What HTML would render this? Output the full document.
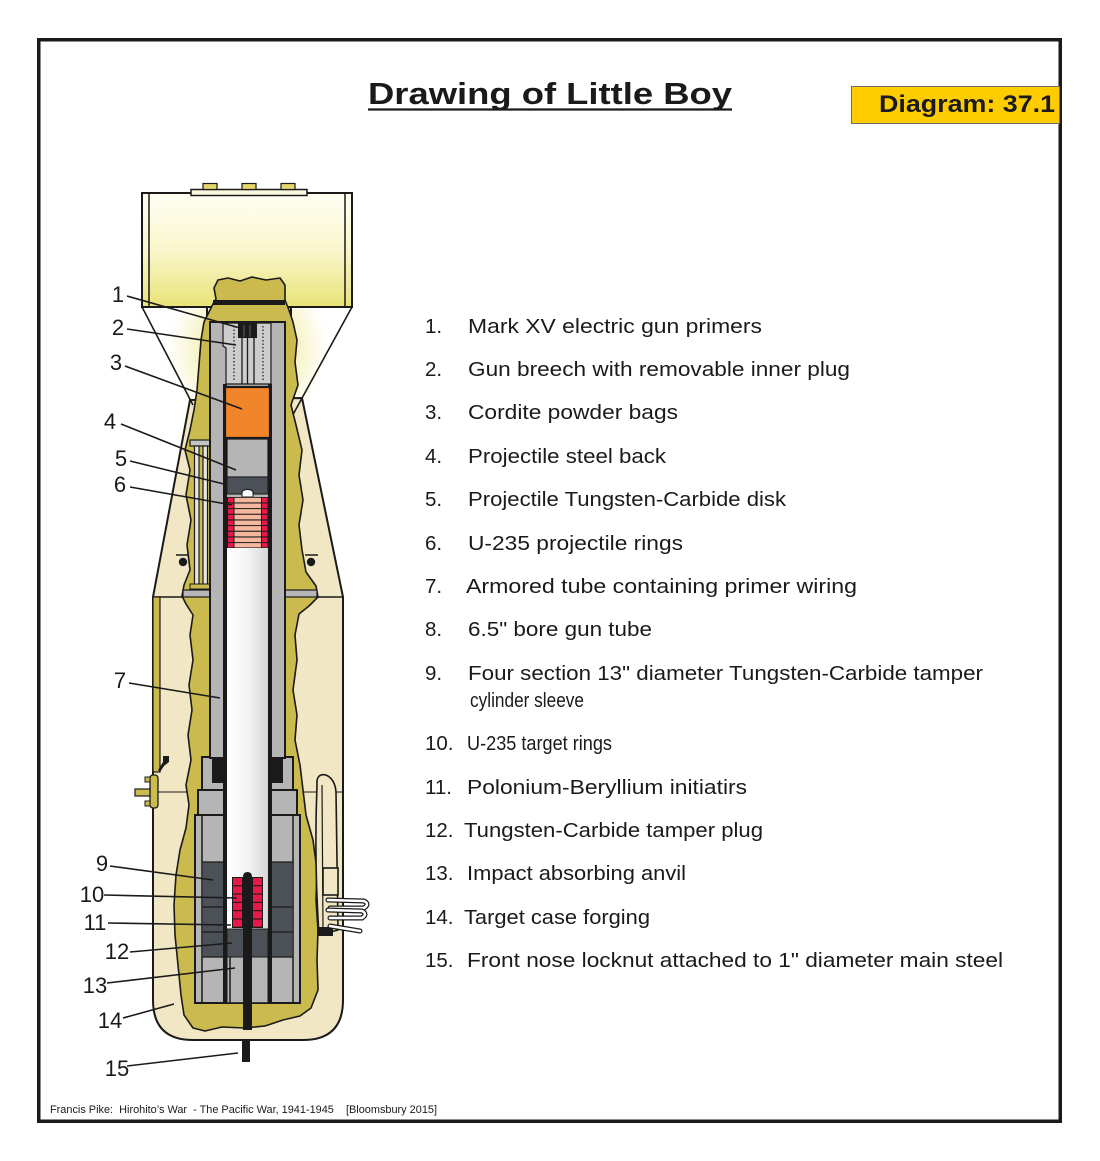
<!DOCTYPE html>
<html>
<head>
<meta charset="utf-8">
<style>
html,body{margin:0;padding:0;background:#fff;}
svg{display:block;}
.lst{font-family:"Liberation Sans",sans-serif;font-size:20.5px;fill:#1a1a1a;}
.num{font-family:"Liberation Sans",sans-serif;font-size:22px;fill:#1a1a1a;}
</style>
</head>
<body>
<svg width="1100" height="1161" viewBox="0 0 1100 1161" xmlns="http://www.w3.org/2000/svg">
<defs>
  <linearGradient id="boxg" x1="0" y1="0" x2="0" y2="1">
    <stop offset="0" stop-color="#fffef3"/>
    <stop offset="0.5" stop-color="#f9f6cc"/>
    <stop offset="1" stop-color="#e9e377"/>
  </linearGradient>
  <radialGradient id="glow" cx="248" cy="350" r="80" gradientUnits="userSpaceOnUse">
    <stop offset="0" stop-color="#eee57a"/>
    <stop offset="0.6" stop-color="#f7f3c4"/>
    <stop offset="1" stop-color="#ffffff"/>
  </radialGradient>
  <linearGradient id="bore" x1="0" y1="0" x2="1" y2="0">
    <stop offset="0" stop-color="#ffffff"/>
    <stop offset="0.5" stop-color="#f4f4f4"/>
    <stop offset="1" stop-color="#d6d6d6"/>
  </linearGradient>
</defs>

<rect x="0" y="0" width="1100" height="1161" fill="#fff"/>
<!-- frame -->
<rect x="38.75" y="39.75" width="1021.5" height="1081.5" fill="none" stroke="#1a1a1a" stroke-width="3.5"/>

<!-- title -->
<text x="368" y="104" font-family="'Liberation Sans',sans-serif" font-weight="bold" font-size="31" fill="#1a1a1a" textLength="364" lengthAdjust="spacingAndGlyphs">Drawing of Little Boy</text>
<line x1="368" y1="109.5" x2="732" y2="109.5" stroke="#1a1a1a" stroke-width="2.2"/>

<!-- badge -->
<rect x="851.5" y="86.5" width="208" height="37" fill="#ffcc00" stroke="#6b6b6b" stroke-width="1"/>
<text x="879" y="112" font-family="'Liberation Sans',sans-serif" font-weight="bold" font-size="24" fill="#1a1a1a" textLength="176" lengthAdjust="spacingAndGlyphs">Diagram: 37.1</text>

<!-- ============ BOMB DRAWING ============ -->
<polygon points="142,307 352,307 302,410 191,410" fill="url(#glow)"/>

<!-- body -->
<path d="M190,400 L302,398 L343,597 L343,1000 Q343,1040 303,1040 L193,1040 Q153,1040 153,1000 L153,597 Z" fill="#f2e7c4" stroke="#1a1a1a" stroke-width="2"/>
<line x1="153" y1="597" x2="343" y2="597" stroke="#1a1a1a" stroke-width="1.5"/>
<line x1="153" y1="792" x2="200" y2="792" stroke="#1a1a1a" stroke-width="1"/>
<line x1="296" y1="792" x2="343" y2="792" stroke="#1a1a1a" stroke-width="1"/>

<!-- neck lines -->
<line x1="207" y1="307" x2="207" y2="420" stroke="#1a1a1a" stroke-width="2"/>
<line x1="291" y1="307" x2="291" y2="420" stroke="#1a1a1a" stroke-width="2"/>

<!-- tail diagonals -->
<line x1="142" y1="307" x2="193" y2="405" stroke="#1a1a1a" stroke-width="1.6"/>
<line x1="352" y1="307" x2="290" y2="420" stroke="#1a1a1a" stroke-width="1.6"/>

<!-- tail box -->
<rect x="142" y="193" width="210" height="114" fill="url(#boxg)" stroke="#1a1a1a" stroke-width="2"/>
<line x1="149" y1="193" x2="149" y2="307" stroke="#1a1a1a" stroke-width="1.5"/>
<line x1="345" y1="193" x2="345" y2="307" stroke="#1a1a1a" stroke-width="1.5"/>
<rect x="191" y="189.5" width="116" height="6" fill="#fbf8de" stroke="#1a1a1a" stroke-width="1.5"/>
<rect x="203" y="183.5" width="14" height="6" fill="#e6d66a" stroke="#1a1a1a" stroke-width="1.2"/>
<rect x="242" y="183.5" width="14" height="6" fill="#e6d66a" stroke="#1a1a1a" stroke-width="1.2"/>
<rect x="281" y="183.5" width="14" height="6" fill="#e6d66a" stroke="#1a1a1a" stroke-width="1.2"/>

<!-- olive blob -->
<path d="M216,299 L214,288 L218,280 L228,278 L240,281 L252,277 L266,280 L280,278 L285,285 L285,300
L289,310 L293,322 L297,340 L295,362 L298,385 L291,405 L296,425 L302,450 L299,475 L303,500 L299,525 L302,550 L306,572 L316,586 L318,597 L309,606 L299,614 L295,635 L297,660 L293,690 L297,715 L295,740 L300,765 L303,790 L306,815 L313,840 L317,870 L316,900 L318,930 L317,960 L318,990 L311,1008 L300,1016 L283,1020 L265,1026 L245,1028 L222,1027 L205,1031 L193,1028 L184,1015 L181,995 L178,965 L175,935 L174,905 L176,875 L180,850 L186,828 L189,805 L186,785 L191,760 L188,735 L192,710 L189,685 L193,660 L190,635 L193,615 L186,604 L182,596 L184,585 L190,570 L187,545 L191,520 L186,495 L190,470 L185,450 L190,430 L194,410 L197,390 L199,365 L201,340 L204,322 L210,310 L214,302 Z" fill="#cbba4e" stroke="#1a1a1a" stroke-width="1.6" stroke-linejoin="round"/>
<rect x="213" y="300" width="72" height="5" fill="#1a1a1a"/>

<!-- bulkhead plates -->
<rect x="183" y="590" width="27" height="7" fill="#b7b7b7" stroke="#1a1a1a" stroke-width="1.2"/>
<rect x="285" y="590" width="32" height="7" fill="#b7b7b7" stroke="#1a1a1a" stroke-width="1.2"/>

<!-- left conduit rails -->
<rect x="190" y="440" width="20" height="6" fill="#c4c4c4" stroke="#1a1a1a" stroke-width="1.2"/>
<rect x="194.5" y="446" width="4.5" height="140" fill="#e6e6e6" stroke="#1a1a1a" stroke-width="1.2"/>
<rect x="203" y="446" width="4.5" height="140" fill="#e6e6e6" stroke="#1a1a1a" stroke-width="1.2"/>
<rect x="190" y="584" width="20" height="5" fill="#cbba4e" stroke="#1a1a1a" stroke-width="1"/>

<!-- bolt dots -->
<line x1="176" y1="555" x2="189" y2="555" stroke="#1a1a1a" stroke-width="1.5"/>
<circle cx="183" cy="562" r="4.2" fill="#1a1a1a"/>
<line x1="305" y1="555" x2="318" y2="555" stroke="#1a1a1a" stroke-width="1.5"/>
<circle cx="311" cy="562" r="4.2" fill="#1a1a1a"/>

<!-- lower housing sections -->
<rect x="195" y="815" width="105" height="188" fill="#b5b5b5" stroke="#1a1a1a" stroke-width="2"/>
<rect x="198" y="790" width="99" height="25" fill="#b5b5b5" stroke="#1a1a1a" stroke-width="2"/>
<rect x="202" y="757" width="91" height="33" fill="#b5b5b5" stroke="#1a1a1a" stroke-width="2"/>

<!-- upper gun tube -->
<rect x="210" y="322" width="75" height="436" fill="#b5b5b5" stroke="#1a1a1a" stroke-width="2"/>

<!-- breech cavity -->
<path d="M223,323 L271,323 L271,384 L226,384 L226,348 L223,346 Z" fill="#cdcdcd" stroke="#1a1a1a" stroke-width="1.2"/>
<line x1="234" y1="326" x2="234" y2="382" stroke="#1a1a1a" stroke-width="1.2" stroke-dasharray="1.5,2"/>
<line x1="263" y1="326" x2="263" y2="382" stroke="#1a1a1a" stroke-width="1.2" stroke-dasharray="1.5,2"/>
<line x1="242" y1="336" x2="242" y2="384" stroke="#1a1a1a" stroke-width="1.3"/>
<line x1="247.5" y1="336" x2="247.5" y2="384" stroke="#1a1a1a" stroke-width="1.3"/>
<line x1="254" y1="336" x2="254" y2="384" stroke="#1a1a1a" stroke-width="1.3"/>
<rect x="238" y="322" width="19" height="16" fill="#1a1a1a"/>
<line x1="244" y1="325" x2="244" y2="337" stroke="#777" stroke-width="0.8"/>
<line x1="250" y1="325" x2="250" y2="337" stroke="#777" stroke-width="0.8"/>

<!-- liners -->
<rect x="223" y="384" width="4" height="619" fill="#1a1a1a"/>
<rect x="268" y="384" width="4" height="619" fill="#1a1a1a"/>

<!-- cordite -->
<rect x="225" y="387" width="45" height="51" fill="#f0852a" stroke="#1a1a1a" stroke-width="2.2"/>

<!-- projectile steel back -->
<rect x="227" y="439" width="41" height="38" fill="#b5b5b5" stroke="#1a1a1a" stroke-width="1.2"/>
<rect x="227" y="477" width="41" height="17" fill="#4b5156" stroke="#1a1a1a" stroke-width="1"/>
<path d="M242,497 L242,493 Q242,489.5 247.5,489.5 Q253,489.5 253,493 L253,497 Z" fill="#fff" stroke="#1a1a1a" stroke-width="1"/>

<!-- projectile rings -->
<rect x="227" y="497" width="41" height="51" fill="#1a1a1a"/>
<g>
  <rect x="228" y="497.8" width="5.5" height="4.6" fill="#e8184a"/><rect x="234.5" y="497.8" width="26.5" height="4.6" fill="#f5b79e"/><rect x="262" y="497.8" width="5.5" height="4.6" fill="#e8184a"/>
  <rect x="228" y="503.5" width="5.5" height="4.6" fill="#e8184a"/><rect x="234.5" y="503.5" width="26.5" height="4.6" fill="#f5b79e"/><rect x="262" y="503.5" width="5.5" height="4.6" fill="#e8184a"/>
  <rect x="228" y="509.1" width="5.5" height="4.6" fill="#e8184a"/><rect x="234.5" y="509.1" width="26.5" height="4.6" fill="#f5b79e"/><rect x="262" y="509.1" width="5.5" height="4.6" fill="#e8184a"/>
  <rect x="228" y="514.8" width="5.5" height="4.6" fill="#e8184a"/><rect x="234.5" y="514.8" width="26.5" height="4.6" fill="#f5b79e"/><rect x="262" y="514.8" width="5.5" height="4.6" fill="#e8184a"/>
  <rect x="228" y="520.5" width="5.5" height="4.6" fill="#e8184a"/><rect x="234.5" y="520.5" width="26.5" height="4.6" fill="#f5b79e"/><rect x="262" y="520.5" width="5.5" height="4.6" fill="#e8184a"/>
  <rect x="228" y="526.1" width="5.5" height="4.6" fill="#e8184a"/><rect x="234.5" y="526.1" width="26.5" height="4.6" fill="#f5b79e"/><rect x="262" y="526.1" width="5.5" height="4.6" fill="#e8184a"/>
  <rect x="228" y="531.8" width="5.5" height="4.6" fill="#e8184a"/><rect x="234.5" y="531.8" width="26.5" height="4.6" fill="#f5b79e"/><rect x="262" y="531.8" width="5.5" height="4.6" fill="#e8184a"/>
  <rect x="228" y="537.5" width="5.5" height="4.6" fill="#e8184a"/><rect x="234.5" y="537.5" width="26.5" height="4.6" fill="#f5b79e"/><rect x="262" y="537.5" width="5.5" height="4.6" fill="#e8184a"/>
  <rect x="228" y="543.1" width="5.5" height="4.3" fill="#e8184a"/><rect x="234.5" y="543.1" width="26.5" height="4.3" fill="#f5b79e"/><rect x="262" y="543.1" width="5.5" height="4.3" fill="#e8184a"/>
</g>

<!-- bore white -->
<rect x="227" y="548" width="41" height="381" fill="url(#bore)"/>

<!-- section A black blocks -->
<rect x="212" y="758" width="11" height="25" fill="#1a1a1a"/>
<rect x="272" y="758" width="11" height="25" fill="#1a1a1a"/>
<line x1="202" y1="790" x2="223" y2="790" stroke="#1a1a1a" stroke-width="1.2"/>
<line x1="272" y1="790" x2="293" y2="790" stroke="#1a1a1a" stroke-width="1.2"/>

<!-- section C inner structure -->
<line x1="202" y1="815" x2="202" y2="1003" stroke="#1a1a1a" stroke-width="1.5"/>
<line x1="293" y1="815" x2="293" y2="1003" stroke="#1a1a1a" stroke-width="1.5"/>
<rect x="202.8" y="862" width="20.2" height="95" fill="#4b5156"/>
<rect x="272" y="862" width="20.2" height="95" fill="#4b5156"/>
<line x1="202" y1="862" x2="223" y2="862" stroke="#1a1a1a" stroke-width="1.2"/>
<line x1="272" y1="862" x2="293" y2="862" stroke="#1a1a1a" stroke-width="1.2"/>
<line x1="202" y1="907" x2="223" y2="907" stroke="#1a1a1a" stroke-width="1.2"/>
<line x1="272" y1="907" x2="293" y2="907" stroke="#1a1a1a" stroke-width="1.2"/>
<line x1="202" y1="932" x2="223" y2="932" stroke="#1a1a1a" stroke-width="1.2"/>
<line x1="272" y1="932" x2="293" y2="932" stroke="#1a1a1a" stroke-width="1.2"/>
<line x1="202" y1="957" x2="223" y2="957" stroke="#1a1a1a" stroke-width="1.2"/>
<line x1="272" y1="957" x2="293" y2="957" stroke="#1a1a1a" stroke-width="1.2"/>

<!-- tamper plug and anvil in bore -->
<rect x="227" y="929" width="41" height="28" fill="#4b5156" stroke="#1a1a1a" stroke-width="1"/>
<rect x="227" y="957" width="41" height="46" fill="#b5b5b5" stroke="#1a1a1a" stroke-width="1"/>
<line x1="230" y1="957" x2="230" y2="1003" stroke="#1a1a1a" stroke-width="1.5"/>

<!-- target rings -->
<rect x="232" y="877" width="31" height="51" fill="#1a1a1a"/>
<g fill="#e8184a">
  <rect x="233" y="878" width="9" height="7.2"/><rect x="253" y="878" width="9" height="7.2"/>
  <rect x="233" y="886.3" width="9" height="7.2"/><rect x="253" y="886.3" width="9" height="7.2"/>
  <rect x="233" y="894.6" width="9" height="7.2"/><rect x="253" y="894.6" width="9" height="7.2"/>
  <rect x="233" y="902.9" width="9" height="7.2"/><rect x="253" y="902.9" width="9" height="7.2"/>
  <rect x="233" y="911.2" width="9" height="7.2"/><rect x="253" y="911.2" width="9" height="7.2"/>
  <rect x="233" y="919.5" width="9" height="7.2"/><rect x="253" y="919.5" width="9" height="7.2"/>
</g>
<path d="M243,1030 L243,877 Q243,872 247.5,872 Q252,872 252,877 L252,1030 Z" fill="#1a1a1a"/>

<line x1="195" y1="1003" x2="300" y2="1003" stroke="#1a1a1a" stroke-width="1.5"/>
<rect x="242" y="1040" width="8" height="22" fill="#1a1a1a"/>

<!-- left conduit strip & fitting -->
<rect x="153" y="597" width="7" height="175" fill="#cbba4e" stroke="#1a1a1a" stroke-width="1.2"/>
<path d="M158,770 L163,762 L163,756 L169,756 L169,762 L164,766 L160,772 Z" fill="#1a1a1a"/>
<rect x="150" y="775" width="8" height="33" rx="3" fill="#cbba4e" stroke="#1a1a1a" stroke-width="1.3"/>
<rect x="135" y="789" width="15" height="7" fill="#cbba4e" stroke="#1a1a1a" stroke-width="1.2"/>
<rect x="145" y="777" width="5" height="5" fill="#cbba4e" stroke="#1a1a1a" stroke-width="1"/>
<rect x="145" y="801" width="5" height="5" fill="#cbba4e" stroke="#1a1a1a" stroke-width="1"/>

<!-- right handle -->
<path d="M317,785 Q316,773 326,775 Q335,779 336,792 L338,930 L319,935 Q314,860 317,785 Z" fill="#f2e7c4" stroke="#1a1a1a" stroke-width="1.6"/>
<line x1="322" y1="785" x2="323" y2="930" stroke="#1a1a1a" stroke-width="1.2"/>
<rect x="323" y="868" width="15" height="27" fill="#f2e7c4" stroke="#1a1a1a" stroke-width="1.6"/>
<rect x="317" y="927" width="16" height="9" fill="#1a1a1a"/>
<g fill="none" stroke-linecap="round">
  <path d="M328,900 L364,901 Q370,904 364,908 L330,908" stroke="#1a1a1a" stroke-width="5"/>
  <path d="M328,900 L364,901 Q370,904 364,908 L330,908" stroke="#fff" stroke-width="2.6"/>
  <path d="M328,910 L362,911 Q368,914 362,918 L330,918" stroke="#1a1a1a" stroke-width="5"/>
  <path d="M328,910 L362,911 Q368,914 362,918 L330,918" stroke="#fff" stroke-width="2.6"/>
  <path d="M330,926 L360,931" stroke="#1a1a1a" stroke-width="5"/>
  <path d="M330,926 L360,931" stroke="#fff" stroke-width="2.6"/>
</g>

<!-- ============ LEFT NUMBER LABELS ============ -->
<g stroke="#1a1a1a" stroke-width="1.6">
  <line x1="127" y1="296" x2="240" y2="328"/>
  <line x1="127" y1="329" x2="236" y2="345"/>
  <line x1="125" y1="366" x2="242" y2="409"/>
  <line x1="121" y1="424" x2="236" y2="470"/>
  <line x1="130" y1="461" x2="224" y2="484"/>
  <line x1="130" y1="487" x2="232" y2="505"/>
  <line x1="129" y1="683" x2="220" y2="698"/>
  <line x1="110" y1="866" x2="213" y2="880"/>
  <line x1="104" y1="895" x2="237" y2="898"/>
  <line x1="108" y1="923" x2="231" y2="925"/>
  <line x1="130" y1="952" x2="232" y2="943"/>
  <line x1="107" y1="983" x2="235" y2="968"/>
  <line x1="123" y1="1018" x2="174" y2="1004"/>
  <line x1="127" y1="1066" x2="238" y2="1053"/>
</g>
<g class="num" text-anchor="middle">
  <text x="118" y="302">1</text>
  <text x="118" y="335">2</text>
  <text x="116" y="370">3</text>
  <text x="110" y="429">4</text>
  <text x="121" y="466">5</text>
  <text x="120" y="492">6</text>
  <text x="120" y="688">7</text>
  <text x="102" y="871">9</text>
  <text x="92" y="902">10</text>
  <text x="95" y="930">11</text>
  <text x="117" y="959">12</text>
  <text x="95" y="993">13</text>
  <text x="110" y="1028">14</text>
  <text x="117" y="1076">15</text>
</g>

<!-- ============ LEGEND LIST ============ -->
<g class="lst">
  <text x="425" y="333">1.</text><text x="468" y="333" textLength="294" lengthAdjust="spacingAndGlyphs">Mark XV electric gun primers</text>
  <text x="425" y="376">2.</text><text x="468" y="376" textLength="382" lengthAdjust="spacingAndGlyphs">Gun breech with removable inner plug</text>
  <text x="425" y="419">3.</text><text x="468" y="419" textLength="210" lengthAdjust="spacingAndGlyphs">Cordite powder bags</text>
  <text x="425" y="463">4.</text><text x="468" y="463" textLength="198" lengthAdjust="spacingAndGlyphs">Projectile steel back</text>
  <text x="425" y="506">5.</text><text x="468" y="506" textLength="318" lengthAdjust="spacingAndGlyphs">Projectile Tungsten-Carbide disk</text>
  <text x="425" y="550">6.</text><text x="468" y="550" textLength="215" lengthAdjust="spacingAndGlyphs">U-235 projectile rings</text>
  <text x="425" y="593">7.</text><text x="466" y="593" textLength="391" lengthAdjust="spacingAndGlyphs">Armored tube containing primer wiring</text>
  <text x="425" y="636">8.</text><text x="468" y="636" textLength="184" lengthAdjust="spacingAndGlyphs">6.5" bore gun tube</text>
  <text x="425" y="680">9.</text><text x="468" y="680" textLength="515" lengthAdjust="spacingAndGlyphs">Four section 13" diameter Tungsten-Carbide tamper</text>
  <text x="470" y="707" textLength="114" lengthAdjust="spacingAndGlyphs">cylinder sleeve</text>
  <text x="425" y="750">10.</text><text x="467" y="750" textLength="145" lengthAdjust="spacingAndGlyphs">U-235 target rings</text>
  <text x="425" y="794">11.</text><text x="467" y="794" textLength="280" lengthAdjust="spacingAndGlyphs">Polonium-Beryllium initiatirs</text>
  <text x="425" y="837">12.</text><text x="464" y="837" textLength="299" lengthAdjust="spacingAndGlyphs">Tungsten-Carbide tamper plug</text>
  <text x="425" y="880">13.</text><text x="467" y="880" textLength="219" lengthAdjust="spacingAndGlyphs">Impact absorbing anvil</text>
  <text x="425" y="924">14.</text><text x="464" y="924" textLength="186" lengthAdjust="spacingAndGlyphs">Target case forging</text>
  <text x="425" y="967">15.</text><text x="467" y="967" textLength="536" lengthAdjust="spacingAndGlyphs">Front nose locknut attached to 1" diameter main steel</text>
</g>

<!-- footer -->
<text x="50" y="1113" font-family="'Liberation Sans',sans-serif" font-size="11" fill="#1a1a1a" textLength="387" lengthAdjust="spacingAndGlyphs" xml:space="preserve">Francis Pike:  Hirohito’s War  - The Pacific War, 1941-1945    [Bloomsbury 2015]</text>
</svg>
</body>
</html>
